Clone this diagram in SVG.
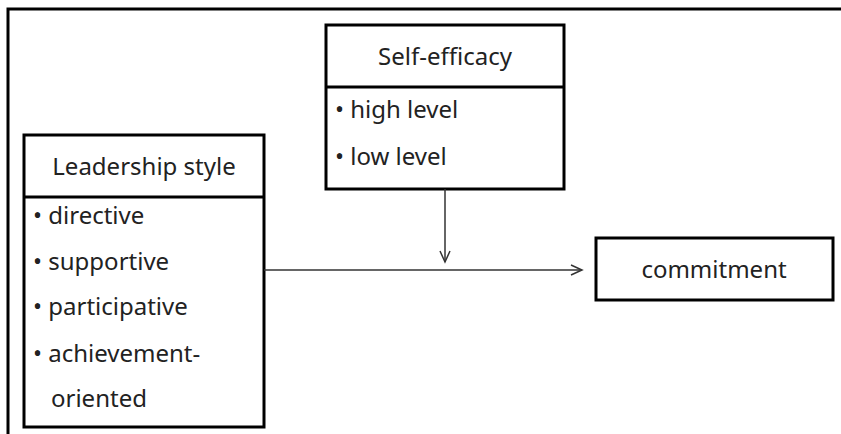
<svg xmlns="http://www.w3.org/2000/svg" width="841" height="434" viewBox="0 0 841 434">
<style>
.box{fill:#fff;stroke:#000;stroke-width:3}
.frame{fill:none;stroke:#000;stroke-width:3}
.t{font-family:"Noto Sans","Open Sans",sans-serif;font-size:24px;fill:#222}
.c{text-anchor:middle}
.ln{stroke:#333;stroke-width:1.5;fill:none}
</style>
<defs>
<marker id="ah" markerWidth="14" markerHeight="12" refX="12" refY="6" orient="auto" markerUnits="userSpaceOnUse">
<path d="M1,1 L12,6 L1,11" fill="none" stroke="#333" stroke-width="1.5"/>
</marker>
</defs>
<rect width="841" height="434" fill="#fff"/>
<path class="frame" d="M8,434 V9 H841"/>
<g id="self-efficacy">
<rect class="box" x="326" y="25" width="238" height="164"/>
<line x1="326" y1="87" x2="564" y2="87" stroke="#000" stroke-width="3"/>
<text class="t c" x="445" y="65">Self-efficacy</text>
<text class="t" x="335" y="118">• high level</text>
<text class="t" x="335" y="165">• low level</text>
</g>
<g id="leadership">
<rect class="box" x="24" y="135" width="240" height="292"/>
<line x1="24" y1="197" x2="264" y2="197" stroke="#000" stroke-width="3"/>
<text class="t c" x="144" y="175">Leadership style</text>
<text class="t" x="33" y="224">• directive</text>
<text class="t" x="33" y="270">• supportive</text>
<text class="t" x="33" y="315">• participative</text>
<text class="t" x="33" y="362">• achievement-</text>
<text class="t" x="51" y="407">oriented</text>
</g>
<g id="commitment">
<rect class="box" x="596" y="238" width="237" height="62"/>
<text class="t c" x="714" y="278">commitment</text>
</g>
<g id="connectors">
<line class="ln" x1="264" y1="270" x2="582" y2="270" marker-end="url(#ah)"/>
<line class="ln" x1="445" y1="189" x2="445" y2="262" marker-end="url(#ah)"/>
</g>
</svg>
